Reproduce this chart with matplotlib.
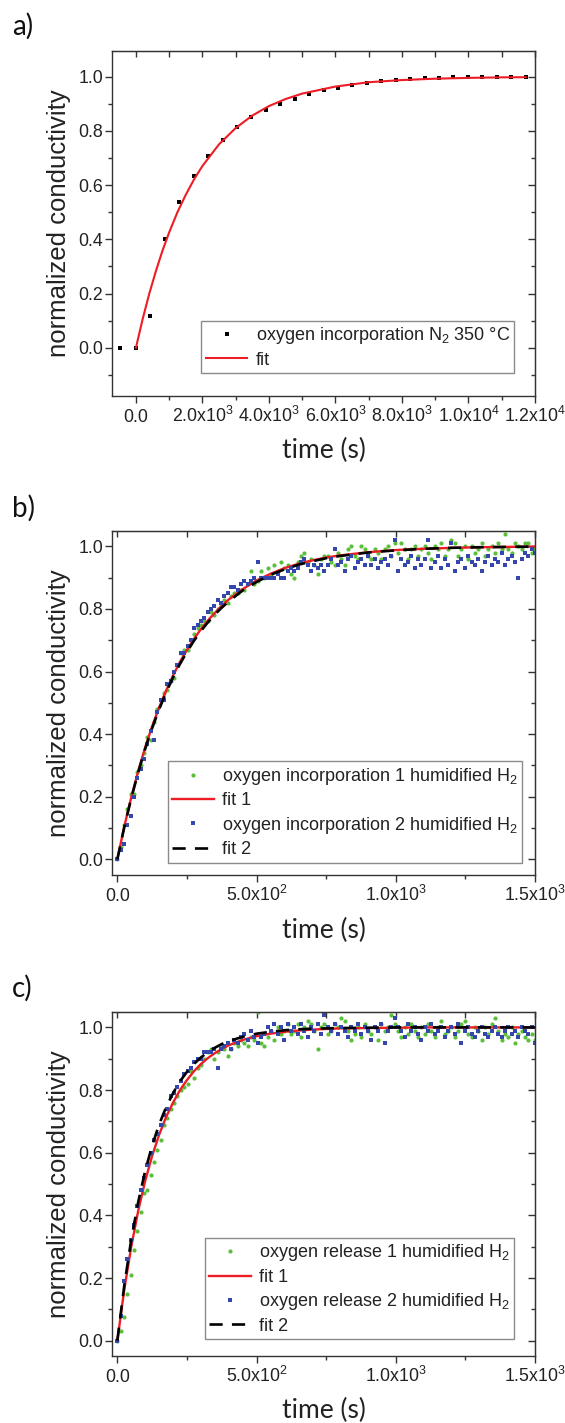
import numpy as np
import matplotlib
matplotlib.use('Agg')
import matplotlib.pyplot as plt
from matplotlib.ticker import FixedLocator, FixedFormatter, FormatStrFormatter

plt.rcParams['font.family'] = ['Liberation Sans', 'DejaVu Sans']
plt.rcParams['mathtext.default'] = 'regular'

# ---- panel a: oxygen incorporation in N2 at 350 C ----
a_time = [-477, 0, 434, 868, 1302, 1736, 2170, 2604, 3038, 3472, 3906, 4340, 4774,
          5208, 5642, 6076, 6510, 6944, 7378, 7812, 8246, 8680, 9114, 9548, 9982,
          10416, 10850, 11284, 11718]
a_value = [0.0, 0.0, 0.119, 0.400, 0.537, 0.635, 0.708, 0.766, 0.813, 0.850, 0.877,
           0.899, 0.919, 0.936, 0.950, 0.959, 0.969, 0.978, 0.984, 0.989, 0.993,
           0.995, 0.997, 0.999, 1.0, 1.0, 1.0, 1.0, 1.0]
a_fit_time = [0, 200, 400, 600, 800, 1000, 1250, 1500, 1750, 2000, 2500, 3000, 3500,
              4000, 4500, 5000, 6000, 7000, 8000, 9000, 10000, 11000, 11718]
a_fit = [0.0, 0.105, 0.199, 0.283, 0.359, 0.426, 0.501, 0.565, 0.622, 0.671, 0.751,
         0.811, 0.857, 0.892, 0.918, 0.938, 0.964, 0.980, 0.988, 0.993, 0.996, 0.998,
         0.9985]
a_xticks = [0, 2000, 4000, 6000, 8000, 10000, 12000]
a_xminor = [1000, 3000, 5000, 7000, 9000, 11000]
a_xlabels = ['0.0', '2.0x10$^3$', '4.0x10$^3$', '6.0x10$^3$', '8.0x10$^3$',
             '1.0x10$^4$', '1.2x10$^4$']
a_yminor = [-0.1, 0.1, 0.3, 0.5, 0.7, 0.9]

# ---- panels b and c: humidified H2, sampled every 12 s ----
bc_time = np.arange(0, 1501, 12)

b_green = [0.00, 0.04, 0.11, 0.16, 0.21, 0.21, 0.28, 0.30, 0.34, 0.39,
           0.38, 0.44, 0.48, 0.51, 0.53, 0.54, 0.57, 0.58, 0.62, 0.66,
           0.67, 0.67, 0.70, 0.72, 0.74, 0.75, 0.76, 0.76, 0.79, 0.78,
           0.80, 0.81, 0.83, 0.82, 0.84, 0.85, 0.85, 0.86, 0.86, 0.88,
           0.92, 0.88, 0.89, 0.92, 0.90, 0.93, 0.91, 0.94, 0.92, 0.95,
           0.93, 0.94, 0.91, 0.90, 0.95, 0.97, 0.98, 0.95, 0.96, 0.94,
           0.91, 0.96, 0.97, 0.97, 0.95, 0.94, 0.98, 0.96, 0.94, 0.99,
           1.00, 0.97, 0.96, 1.00, 0.99, 0.97, 0.96, 0.99, 0.98, 0.96,
           0.99, 1.00, 0.97, 1.01, 0.98, 1.01, 0.99, 0.96, 0.99, 1.00,
           0.97, 0.99, 1.00, 0.98, 0.96, 1.00, 0.99, 1.01, 0.97, 0.99,
           1.02, 1.01, 0.97, 0.99, 1.00, 0.96, 1.00, 0.98, 0.99, 1.01,
           0.97, 0.99, 1.00, 0.98, 1.01, 0.99, 1.04, 0.99, 0.98, 1.01,
           1.00, 0.99, 1.01, 1.01, 0.98, 0.99]
b_blue = [0.00, 0.03, 0.05, 0.11, 0.14, 0.20, 0.26, 0.29, 0.32, 0.37,
          0.41, 0.38, 0.47, 0.51, 0.51, 0.56, 0.57, 0.60, 0.62, 0.66,
          0.66, 0.68, 0.70, 0.74, 0.75, 0.76, 0.77, 0.79, 0.80, 0.81,
          0.83, 0.82, 0.84, 0.85, 0.87, 0.87, 0.86, 0.88, 0.89, 0.88,
          0.89, 0.90, 0.95, 0.90, 0.90, 0.90, 0.90, 0.90, 0.91, 0.90,
          0.90, 0.92, 0.93, 0.92, 0.93, 0.95, 0.96, 0.94, 0.92, 0.94,
          0.93, 0.94, 0.92, 0.94, 0.96, 0.99, 0.94, 0.95, 0.92, 0.96,
          0.97, 0.93, 0.95, 0.96, 0.94, 0.97, 0.94, 0.96, 0.93, 0.95,
          0.96, 0.94, 0.97, 1.02, 0.92, 0.96, 0.94, 0.95, 0.97, 0.93,
          0.96, 0.94, 0.96, 1.02, 0.93, 0.95, 0.97, 0.93, 0.96, 0.94,
          1.01, 0.92, 0.95, 0.96, 0.93, 0.97, 0.95, 0.94, 0.96, 0.92,
          0.95, 0.97, 0.94, 0.96, 0.95, 0.98, 0.94, 0.96, 0.97, 0.95,
          0.90, 0.96, 0.98, 0.97, 0.99, 0.98]

c_green = [0.00, 0.03, 0.075, 0.15, 0.21, 0.29, 0.35, 0.41, 0.47, 0.48,
           0.53, 0.57, 0.61, 0.64, 0.69, 0.71, 0.74, 0.76, 0.78, 0.80,
           0.81, 0.82, 0.86, 0.84, 0.87, 0.88, 0.90, 0.92, 0.93, 0.90,
           0.92, 0.94, 0.93, 0.91, 0.93, 0.95, 0.94, 0.96, 0.95, 0.94,
           0.97, 0.96, 1.05, 0.95, 0.94, 0.97, 0.99, 0.96, 1.00, 0.98,
           0.99, 1.01, 0.98, 0.99, 1.01, 0.97, 1.00, 1.02, 1.01, 0.99,
           0.93, 1.00, 1.01, 0.98, 0.99, 1.01, 1.00, 1.03, 1.02, 0.99,
           0.96, 0.98, 1.00, 0.97, 1.01, 0.99, 0.98, 1.00, 0.96, 1.01,
           0.99, 1.00, 1.04, 1.01, 0.99, 0.97, 1.00, 0.98, 1.01, 0.99,
           0.97, 1.00, 0.98, 1.01, 0.99, 0.97, 1.00, 1.02, 0.98, 0.99,
           1.00, 0.97, 0.99, 1.01, 1.02, 0.98, 0.97, 1.00, 0.99, 0.96,
           1.00, 0.98, 1.01, 1.03, 0.99, 0.96, 0.98, 0.97, 1.00, 0.95,
           0.98, 0.99, 0.97, 0.96, 0.98, 0.96]
c_blue = [0.00, 0.08, 0.19, 0.26, 0.32, 0.37, 0.43, 0.48, 0.52, 0.56,
          0.60, 0.64, 0.66, 0.69, 0.72, 0.74, 0.78, 0.79, 0.81, 0.83,
          0.85, 0.86, 0.87, 0.89, 0.90, 0.90, 0.92, 0.92, 0.92, 0.93,
          0.87, 0.93, 0.94, 0.95, 0.93, 0.96, 0.95, 0.97, 0.98, 0.96,
          0.99, 0.97, 0.95, 0.97, 0.98, 1.00, 0.99, 1.01, 0.98, 1.00,
          0.96, 1.01, 0.99, 1.00, 0.98, 1.01, 0.99, 0.97, 1.00, 0.99,
          1.01, 0.98, 1.04, 1.00, 0.99, 1.01, 0.98, 1.00, 0.99, 0.97,
          1.00, 0.99, 1.01, 0.98, 1.00, 0.99, 0.96, 1.00, 0.99, 1.01,
          0.95, 0.99, 1.00, 1.03, 1.00, 0.99, 0.97, 1.01, 0.99, 1.00,
          0.98, 0.96, 1.00, 0.99, 1.01, 0.98, 0.99, 1.00, 0.97, 0.99,
          1.00, 0.98, 1.01, 0.95, 0.99, 1.00, 0.98, 0.97, 0.99, 1.00,
          0.98, 0.97, 0.99, 1.00, 0.98, 0.97, 0.99, 1.00, 0.98, 0.99,
          0.97, 1.00, 0.99, 0.98, 1.00, 0.95]

fit_time = [0, 25, 50, 75, 100, 125, 150, 175, 200, 225, 250, 275, 300, 325, 350,
            375, 400, 450, 500, 550, 600, 650, 700, 750, 800, 900, 1000, 1100,
            1200, 1300, 1400, 1500]
b_fit1 = [0.0, 0.105, 0.198, 0.282, 0.358, 0.425, 0.485, 0.539, 0.587, 0.631, 0.669,
          0.704, 0.735, 0.763, 0.787, 0.810, 0.830, 0.863, 0.891, 0.912, 0.930,
          0.944, 0.955, 0.964, 0.971, 0.981, 0.988, 0.992, 0.995, 0.997, 0.998, 0.999]
b_fit2 = [0.0, 0.103, 0.195, 0.278, 0.353, 0.419, 0.479, 0.533, 0.581, 0.624, 0.663,
          0.698, 0.729, 0.757, 0.782, 0.804, 0.824, 0.859, 0.886, 0.909, 0.926,
          0.941, 0.952, 0.962, 0.969, 0.980, 0.987, 0.992, 0.995, 0.997, 0.998, 0.999]
c_fit1 = [0.0, 0.164, 0.300, 0.415, 0.510, 0.590, 0.657, 0.714, 0.760, 0.800, 0.832,
          0.860, 0.883, 0.902, 0.918, 0.931, 0.943, 0.960, 0.972, 0.980, 0.986,
          0.990, 0.993, 0.995, 0.997, 0.998, 0.999, 1.0, 1.0, 1.0, 1.0, 1.0]
c_fit2 = [0.0, 0.177, 0.323, 0.443, 0.542, 0.623, 0.690, 0.745, 0.790, 0.828, 0.858,
          0.883, 0.904, 0.921, 0.935, 0.947, 0.956, 0.970, 0.980, 0.986, 0.991,
          0.994, 0.996, 0.997, 0.998, 0.999, 1.0, 1.0, 1.0, 1.0, 1.0, 1.0]

bc_xticks = [0, 500, 1000, 1500]
bc_xminor = [250, 750, 1250]
bc_xlabels = ['0.0', '5.0x10$^2$', '1.0x10$^3$', '1.5x10$^3$']
yticks = [0.0, 0.2, 0.4, 0.6, 0.8, 1.0]
bc_yminor = [0.1, 0.3, 0.5, 0.7, 0.9]

GREEN = '#5cbf3a'
BLUE = '#3547ad'
RED = '#ee1c24'
AXCOL = '#333333'
LABEL_FONT = ['Lato', 'DejaVu Sans']


def style_axes(ax, xlim, ylim, xmaj, xmin, xlabels, ymin):
    ax.set_xlim(*xlim)
    ax.set_ylim(*ylim)
    ax.xaxis.set_major_locator(FixedLocator(xmaj))
    ax.xaxis.set_major_formatter(FixedFormatter(xlabels))
    ax.xaxis.set_minor_locator(FixedLocator(xmin))
    ax.yaxis.set_major_locator(FixedLocator(yticks))
    ax.yaxis.set_minor_locator(FixedLocator(ymin))
    ax.yaxis.set_major_formatter(FormatStrFormatter('%.1f'))
    ax.tick_params(which='both', direction='out', width=1.0, color=AXCOL,
                   labelsize=12.8, labelcolor='#222222')
    ax.tick_params(which='major', length=5)
    ax.tick_params(which='minor', length=3)
    ax.tick_params(axis='x', pad=13.7)
    ax.tick_params(axis='y', pad=1.5)
    for lbl in ax.get_xticklabels():
        lbl.set_va('baseline')
    for s in ax.spines.values():
        s.set_linewidth(1.0)
        s.set_color(AXCOL)
    # mirrored ticks pointing inwards on top and right
    top = ax.secondary_xaxis('top')
    top.set_xticks(xmaj)
    top.set_xticks(xmin, minor=True)
    top.tick_params(which='both', direction='in', labeltop=False, width=1.0,
                    color=AXCOL, length=4)
    top.spines['top'].set_color(AXCOL)
    right = ax.secondary_yaxis('right')
    right.set_yticks(yticks)
    right.set_yticks(ymin, minor=True)
    right.tick_params(which='both', direction='in', labelright=False, width=1.0,
                      color=AXCOL)
    right.tick_params(which='major', length=5)
    right.tick_params(which='minor', length=3)
    right.spines['right'].set_color(AXCOL)

    ax.set_ylabel('normalized conductivity', fontsize=18.5, color='#222222')
    ax.yaxis.set_label_coords(-0.125, 0.5)
    ax.yaxis.label.set_va('center')
    ax.set_xlabel('time (s)', fontsize=19, family=LABEL_FONT, color='#222222')
    ax.xaxis.label.set_va('center')


def add_legend(ax, anchor):
    leg = ax.legend(loc='lower right', bbox_to_anchor=anchor, borderaxespad=0,
                    fontsize=13, fancybox=False, edgecolor='#8a8a8a', framealpha=1,
                    handlelength=2.3, handletextpad=0.45, borderpad=0.25,
                    labelspacing=0.3)
    leg.get_frame().set_linewidth(1.0)
    for t in leg.get_texts():
        t.set_color('#222222')


fig = plt.figure(figsize=(5.65, 14.23), dpi=100)

# panel a
ax1 = fig.add_axes([0.1988, 0.7219, 0.7481, 0.2426])
ax1.plot(a_time, a_value, 's', color='black', ms=3.0, mew=0,
         label='oxygen incorporation N$_2$ 350 °C')
ax1.plot(a_fit_time, a_fit, '-', color=RED, lw=1.5, label='fit')
style_axes(ax1, (-710, 12000), (-0.177, 1.097), a_xticks, a_xminor, a_xlabels, a_yminor)
ax1.xaxis.set_label_coords(0.5, -0.159)
add_legend(ax1, (0.951, 0.065))

# panel b
ax2 = fig.add_axes([0.1988, 0.3851, 0.7481, 0.2420])
ax2.plot(bc_time, b_green, 'o', color=GREEN, ms=3.0, mew=0,
         label='oxygen incorporation 1 humidified H$_2$')
ax2.plot(fit_time, b_fit1, '-', color=RED, lw=1.7, label='fit 1')
ax2.plot(bc_time, b_blue, 's', color=BLUE, ms=2.6, mew=0,
         label='oxygen incorporation 2 humidified H$_2$')
ax2.plot(fit_time, b_fit2, '--', color='black', lw=1.9, dashes=(5, 3.5), label='fit 2')
style_axes(ax2, (-18, 1500), (-0.05, 1.05), bc_xticks, bc_xminor, bc_xlabels, bc_yminor)
ax2.xaxis.set_label_coords(0.5, -0.16)
add_legend(ax2, (0.970, 0.036))

# panel c
ax3 = fig.add_axes([0.1988, 0.0468, 0.7481, 0.2422])
ax3.plot(bc_time, c_green, 'o', color=GREEN, ms=3.0, mew=0,
         label='oxygen release 1 humidified H$_2$')
ax3.plot(fit_time, c_fit1, '-', color=RED, lw=1.7, label='fit 1')
ax3.plot(bc_time, c_blue, 's', color=BLUE, ms=2.6, mew=0,
         label='oxygen release 2 humidified H$_2$')
ax3.plot(fit_time, c_fit2, '--', color='black', lw=1.9, dashes=(5, 3.5), label='fit 2')
style_axes(ax3, (-18, 1500), (-0.05, 1.05), bc_xticks, bc_xminor, bc_xlabels, bc_yminor)
ax3.xaxis.set_label_coords(0.5, -0.156)
add_legend(ax3, (0.951, 0.050))

# panel letters
for letter, ypix in [('a)', 26), ('b)', 508), ('c)', 988)]:
    fig.text(12 / 565, 1 - ypix / 1423, letter, fontsize=20, family=LABEL_FONT,
             ha='left', va='center', color='#111111')

fig.savefig('out.png', dpi=100, facecolor='white')
